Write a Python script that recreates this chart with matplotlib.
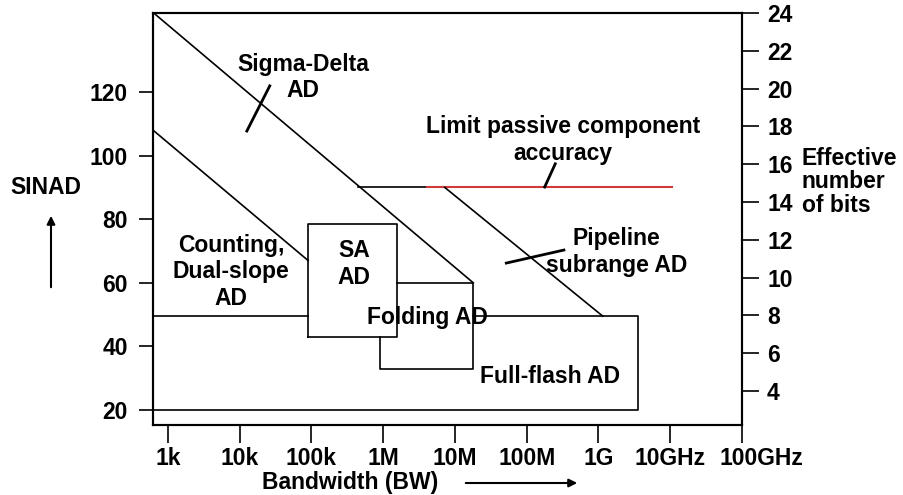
import matplotlib
matplotlib.use("Agg")
import matplotlib.pyplot as plt
import matplotlib.transforms as mtransforms

plt.rcParams['font.family'] = ['Liberation Sans', 'DejaVu Sans']
plt.rcParams['font.weight'] = 'bold'
plt.rcParams['font.size'] = 16.5

# bandwidth ticks (Hz) and labels
bw_ticks = [1e3, 1e4, 1e5, 1e6, 1e7, 1e8, 1e9, 1e10, 1e11]
bw_labels = ["1k", "10k", "100k", "1M", "10M", "100M", "1G", "10GHz", "100GHz"]
sinad_ticks = [20, 40, 60, 80, 100, 120]
bits_ticks = [4, 6, 8, 10, 12, 14, 16, 18, 20, 22, 24]

# region boundaries: bandwidth (Hz) / SINAD (dB)
sigma_delta_x = [620, 1.8e7]
sigma_delta_y = [145, 60]
counting_x = [620, 9e4]
counting_y = [108, 67]
counting_floor_x = [620, 9e4]
counting_floor_y = [49.5, 49.5]
sa_x = [9e4, 1.55e6]
sa_y = [43, 78.5]
folding_x = [9e5, 1.8e7]
folding_y = [33, 60]
flash_x = [620, 1.8e7, 3.6e9]
flash_y = [20, 49.5]
limit_y = 90
limit_black_x = [4.4e5, 4.1e6]
limit_red_x = [4.1e6, 1.05e10]
pipeline_x = [7.2e6, 1.15e9]
pipeline_y = [90, 49.5]

fig = plt.figure(figsize=(9.04, 4.95), dpi=100)
ax = fig.add_axes([0.1692, 0.1414, 0.6516, 0.8323])
ax.set_xscale('log')
ax.set_xlim(620, 1e11)
ax.set_ylim(15.3, 144.8)

lw = 1.2
k = 'black'
ax.plot(sigma_delta_x, sigma_delta_y, color=k, lw=lw)
ax.plot(counting_x, counting_y, color=k, lw=lw)
ax.plot(counting_floor_x, counting_floor_y, color=k, lw=lw)
# SA box
ax.plot([sa_x[0], sa_x[1], sa_x[1], sa_x[0], sa_x[0]],
        [sa_y[0], sa_y[0], sa_y[1], sa_y[1], sa_y[0]], color=k, lw=lw)
# folding box (hidden part behind SA box)
ax.plot([sa_x[1], folding_x[1], folding_x[1], folding_x[0], folding_x[0]],
        [folding_y[1], folding_y[1], folding_y[0], folding_y[0], sa_y[0]], color=k, lw=lw)
# full-flash box
ax.plot([flash_x[0], flash_x[2], flash_x[2], flash_x[1]],
        [flash_y[0], flash_y[0], flash_y[1], flash_y[1]], color=k, lw=lw)
ax.plot(limit_black_x, [limit_y, limit_y], color=k, lw=lw)
ax.plot(limit_red_x, [limit_y, limit_y], color='#d03a3a', lw=1.5)
ax.plot(pipeline_x, pipeline_y, color=k, lw=lw)

# leader lines
ax.plot([1.26e4, 2.63e4], [107.7, 121.9], color=k, lw=2)
ax.plot([1.78e8, 2.5e8], [90.1, 97.4], color=k, lw=2)
ax.plot([5.2e7, 3.3e8], [66.2, 70.3], color=k, lw=2)

ax.text(7.6e4, 124.5, "Sigma-Delta\nAD", ha='center', va='center')
ax.text(3.2e8, 104.8, "Limit passive component\naccuracy", ha='center', va='center')
ax.text(7.6e3, 63.4, "Counting,\nDual-slope\nAD", ha='center', va='center')
ax.text(3.9e5, 66.0, "SA\nAD", ha='center', va='center')
ax.text(4.1e6, 49.2, "Folding AD", ha='center', va='center')
ax.text(1.8e9, 69.7, "Pipeline\nsubrange AD", ha='center', va='center')
ax.text(2.1e8, 30.7, "Full-flash AD", ha='center', va='center')

for s in ax.spines.values():
    s.set_linewidth(1.5)

ax.set_xticks(bw_ticks)
ax.set_xticklabels(bw_labels)
ax.minorticks_off()
ax.set_yticks(sinad_ticks)
ax.tick_params(axis='x', length=13, width=1.2, pad=3)
ax.tick_params(axis='y', length=10, width=1.2, pad=8)
# last bandwidth label sits a little right of its tick
last = ax.get_xticklabels()[-1]
last.set_transform(last.get_transform() + mtransforms.ScaledTranslation(0.19, 0, fig.dpi_scale_trans))

ax2 = ax.twinx()
ax2.set_ylim(2.2, 24)
ax2.set_yticks(bits_ticks)
ax2.tick_params(axis='y', length=12, width=1.2, pad=6)
for s in ax2.spines.values():
    s.set_linewidth(1.5)

fig.text(46 / 904, 1 - 188 / 495, "SINAD", ha='center', va='center')
fig.text(802 / 904, 1 - 182 / 495, "Effective\nnumber\nof bits", ha='left', va='center',
         linespacing=1.05)
fig.text(350 / 904, 1 - 482 / 495, "Bandwidth (BW)", ha='center', va='center')
fig.add_artist(matplotlib.patches.FancyArrowPatch(
    (51 / 904, 1 - 290 / 495), (51 / 904, 1 - 213 / 495), transform=fig.transFigure,
    arrowstyle='-|>', mutation_scale=12, lw=1.5, color=k))
fig.add_artist(matplotlib.patches.FancyArrowPatch(
    (463 / 904, 1 - 483 / 495), (580 / 904, 1 - 483 / 495), transform=fig.transFigure,
    arrowstyle='-|>', mutation_scale=12, lw=1.5, color=k))

fig.savefig("out.png", dpi=100)
